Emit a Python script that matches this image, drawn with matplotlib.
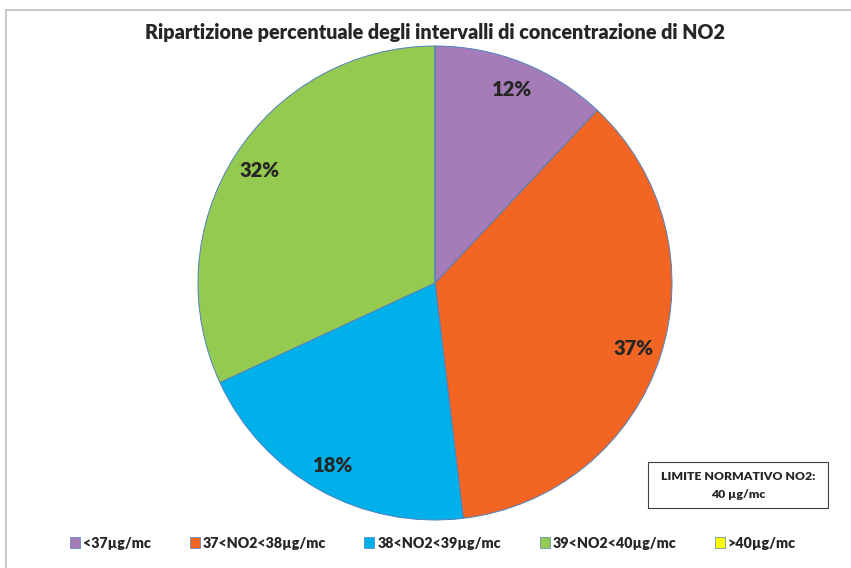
import matplotlib.pyplot as plt
from matplotlib.patches import Rectangle
from matplotlib.lines import Line2D

plt.rcParams['font.family'] = ['Lato', 'DejaVu Sans']

# dati
categories = ['<37µg/mc', '37<NO2<38µg/mc', '38<NO2<39µg/mc', '39<NO2<40µg/mc', '>40µg/mc']
values = [12.0, 36.1, 20.0, 31.9, 0.0]
pct_labels = ['12%', '37%', '18%', '32%', '']
colors = ['#A67CB8', '#F26522', '#00B0EA', '#95CA50', '#FFFF00']

fig = plt.figure(figsize=(8.51, 5.68), dpi=100)
W, H = 851, 568
cx, cy, r = 435, 283, 237
ax = fig.add_axes([(cx - r) / W, (H - cy - r) / H, 2 * r / W, 2 * r / H])

wedges, texts = ax.pie(values, labels=pct_labels, colors=colors, startangle=90,
                       counterclock=False, labeldistance=0.88,
                       wedgeprops=dict(edgecolor='#4F81BD', linewidth=0.7),
                       textprops=dict(fontsize=14.5, fontweight='heavy', color='#262626'))
for t in texts:
    t.set_ha('center')
    t.set_va('center')
ax.set_xlim(-1, 1)
ax.set_ylim(-1, 1)
ax.set_aspect('equal')

# cornice
fig.add_artist(Line2D([6 / W, 6 / W], [0, 1 - 10 / H], color='#BFBFBF', lw=1.2))
fig.add_artist(Line2D([6 / W, 1], [1 - 10 / H, 1 - 10 / H], color='#BFBFBF', lw=1.2))

fig.text(435 / W, 1 - 32 / H, 'Ripartizione percentuale degli intervalli di concentrazione di NO2',
         ha='center', va='center', fontsize=14.2, fontweight='heavy', color='#262626')

# riquadro limite
fig.add_artist(Rectangle((648 / W, 1 - 508 / H), 180 / W, 46 / H, transform=fig.transFigure,
                         facecolor='white', edgecolor='#404040', lw=0.8))
fig.text(738 / W, 1 - 476 / H, 'LIMITE NORMATIVO NO2:', ha='center', va='center',
         fontsize=8.8, fontweight='heavy', color='#262626')
fig.text(738 / W, 1 - 494 / H, '40 µg/mc', ha='center', va='center',
         fontsize=8.8, fontweight='heavy', color='#262626')

# legenda
handles = [Rectangle((0, 0), 1, 1, facecolor=c, edgecolor='#4F81BD', lw=0.5) for c in colors]
fig.legend(handles, categories, loc='center', bbox_to_anchor=(433 / W, 1 - 543 / H), ncol=5,
           frameon=False, handlelength=0.7, handleheight=0.7, handletextpad=0.2,
           columnspacing=2.7, prop=dict(size=10.3, weight='heavy'), labelcolor='#262626')

fig.savefig('out.png', dpi=100)
